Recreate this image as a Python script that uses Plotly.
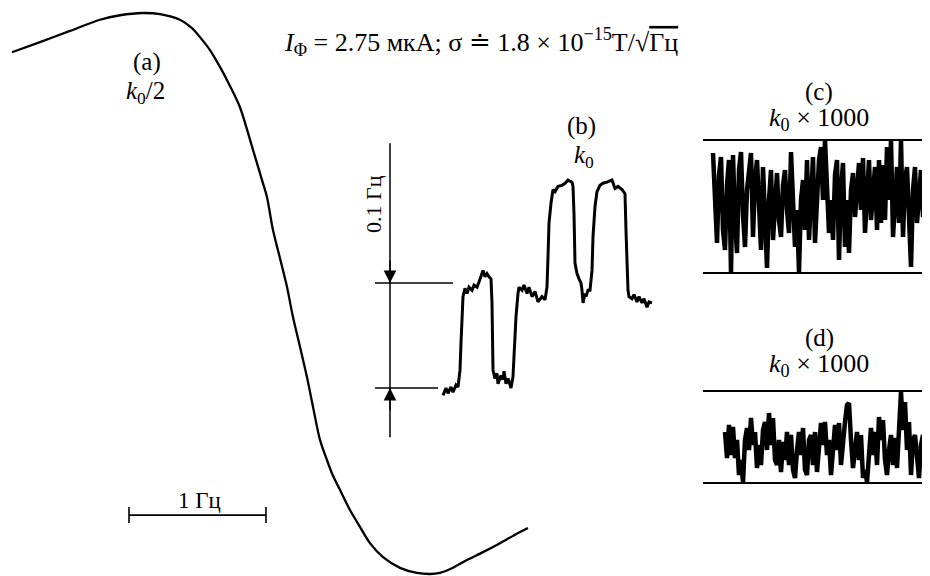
import plotly.graph_objects as go

# ---------------- data ----------------
# (a) k0/2 : response curve vs detuning (Hz), normalised amplitude
A_FREQ_HZ = [-0.854, -0.650, -0.431, -0.212, -0.066, 0.102, 0.226, 0.372, 0.460, 0.518,
             0.591, 0.664, 0.737, 0.810, 0.905, 0.971, 1.007, 1.051, 1.102, 1.153,
             1.197, 1.248, 1.299, 1.343, 1.394, 1.445, 1.489, 1.540, 1.613, 1.686,
             1.759, 1.854, 1.978, 2.102, 2.197, 2.270, 2.365, 2.467, 2.584, 2.708,
             2.818, 2.912]
A_RESPONSE = [0.930, 0.948, 0.968, 0.988, 0.996, 1.000, 0.998, 0.988, 0.973, 0.957,
              0.934, 0.904, 0.870, 0.832, 0.756, 0.702, 0.672, 0.613, 0.563, 0.512,
              0.458, 0.405, 0.351, 0.298, 0.239, 0.203, 0.175, 0.150, 0.114, 0.084,
              0.055, 0.030, 0.011, 0.002, 0.000, 0.002, 0.011, 0.025, 0.039, 0.055,
              0.070, 0.082]
A_SCALE_HZ = [0, 1]          # "1 Гц" scale bar
A_SCALE_LEVEL = 0.105

# (b) k0 : frequency steps (mHz) vs time (arb. units)
B_TIME = [0.0, 0.3, 0.5, 0.8, 1.0, 1.3, 1.5, 1.7, 1.8, 1.9, 2.0, 2.2, 2.4, 2.6, 2.9, 3.1, 3.4,
          3.6, 3.9, 4.0, 4.2, 4.4, 4.6, 4.8, 4.9, 4.93, 5.0, 5.2, 5.4, 5.5, 5.8, 6.0, 6.1,
          6.3, 6.5, 6.8, 7.0, 7.1, 7.3, 7.5, 7.6, 7.9, 8.1, 8.4, 8.6, 8.9, 9.2, 9.5, 9.9,
          10.2, 10.4, 10.5, 10.6, 10.8, 11.0, 11.2, 11.5, 11.9, 12.2, 12.5, 12.9, 13.0,
          13.1, 13.2, 13.3, 13.4, 13.6, 13.8, 13.9, 14.0, 14.2, 14.3, 14.5, 14.7, 14.9,
          15.0, 15.2, 15.4, 15.7, 16.0, 16.4, 16.9, 17.2, 17.5, 17.9, 18.2, 18.3, 18.4,
          18.5, 18.6, 18.9, 19.1, 19.4, 19.6, 19.9, 20.1, 20.4, 20.6, 20.9]
B_SHIFT_MHZ = [-7, 0, -5, 1, -4, 3, 1, 17, 43, 68, 87, 95, 90, 96, 93, 98, 96,
               101, 109, 112, 106, 109, 106, 104, 81, 43, 17, 9, 14, 4, 12, 8, 16,
               4, 9, 0, 11, 30, 68, 90, 96, 93, 98, 90, 96, 87, 92, 82, 87,
               84, 96, 125, 157, 176, 189, 187, 192, 193, 195, 198, 196, 192,
               166, 119, 114, 109, 104, 100, 93, 81, 90, 87, 93, 93, 112,
               144, 173, 187, 193, 195, 196, 198, 190, 192, 189, 185, 150, 106,
               93, 87, 85, 89, 82, 87, 81, 85, 77, 82, 81]
B_SCALE_MHZ = [0, 100]       # "0.1 Гц" scale

# (c) k0 x 1000 noise (arb. units, frame 0..133)
C_NOISE = [120, 73, 30, 98, 116, 43, 23, 88, 113, 1, 118, 53, 20, 103, 121, 58, 26, 83,
           103, 120, 36, 93, 113, 53, 23, 106, 43, 5, 73, 103, 33, 78, 100, 53, 36, 88,
           103, 63, 40, 121, 83, 26, 63, 1, 73, 93, 43, 113, 33, 78, 116, 30, 83, 113,
           126, 73, 133, 83, 40, 73, 33, 98, 113, 13, 83, 110, 26, 73, 20, 83, 100, 56,
           93, 110, 63, 115, 40, 83, 113, 53, 88, 106, 43, 113, 50, 108, 53, 126, 73,
           133, 36, 73, 106, 50, 133, 36, 93, 106, 43, 6, 83, 106, 50, 73, 103, 56, 78]
C_FRAME = [0, 133]

# (d) k0 x 1000 noise (arb. units, frame 0..92)
D_NOISE = [51, 25, 58, 28, 56, 25, 43, 8, 23, 1, 43, 55, 33, 65, 38, 51, 15, 38, 18, 53,
           61, 33, 70, 38, 65, 23, 18, 43, 11, 41, 23, 51, 18, 48, 13, 5, 33, 51, 28, 55,
           13, 8, 43, 48, 18, 51, 11, 33, 60, 38, 61, 28, 43, 8, 28, 58, 33, 60, 18, 43,
           61, 78, 80, 43, 15, 33, 51, 23, 48, 5, 13, 1, 33, 55, 28, 51, 18, 66, 43, 63,
           23, 8, 33, 48, 18, 45, 15, 63, 91, 53, 81, 33, 61, 8, 43, 48, 23, 5, 38, 48,
           13, 43, 23]
D_FRAME = [0, 92]

# ---------------- layout calibration ----------------
W, H = 930, 576
OFF = 8            # page body margin of the HTML output
FONT = "Liberation Serif"


def xr(p0, s):
    return [(OFF - p0) / s, (W + OFF - p0) / s]


def yr(q0, s):
    return [(q0 - H - OFF) / s, (q0 - OFF) / s]


BLACK = "black"
fig = go.Figure()

fig.add_trace(go.Scatter(x=A_FREQ_HZ, y=A_RESPONSE, mode="lines",
                         line=dict(color=BLACK, width=2.3, shape="spline", smoothing=0.8),
                         xaxis="x", yaxis="y", hoverinfo="skip"))
fig.add_trace(go.Scatter(x=B_TIME, y=B_SHIFT_MHZ, mode="lines",
                         line=dict(color=BLACK, width=3),
                         xaxis="x2", yaxis="y2", hoverinfo="skip"))
fig.add_trace(go.Scatter(x=list(range(len(C_NOISE))), y=C_NOISE, mode="lines",
                         line=dict(color=BLACK, width=4.5),
                         xaxis="x3", yaxis="y3", hoverinfo="skip"))
fig.add_trace(go.Scatter(x=list(range(len(D_NOISE))), y=D_NOISE, mode="lines",
                         line=dict(color=BLACK, width=4.5),
                         xaxis="x4", yaxis="y4", hoverinfo="skip"))

shapes = []
# (a) scale bar
tick = 8 / 561
shapes.append(dict(type="line", xref="x", yref="y", x0=A_SCALE_HZ[0], x1=A_SCALE_HZ[1],
                   y0=A_SCALE_LEVEL, y1=A_SCALE_LEVEL, line=dict(color=BLACK, width=1.6)))
for xv in A_SCALE_HZ:
    shapes.append(dict(type="line", xref="x", yref="y", x0=xv, x1=xv,
                       y0=A_SCALE_LEVEL - tick, y1=A_SCALE_LEVEL + tick,
                       line=dict(color=BLACK, width=1.6)))
# (b) scale: vertical line and horizontal level marks
bx = -5.3
shapes.append(dict(type="line", xref="x2", yref="y2", x0=bx, x1=bx, y0=-47, y1=233,
                   line=dict(color=BLACK, width=1.5)))
shapes.append(dict(type="line", xref="x2", yref="y2", x0=-6.8, x1=1.0,
                   y0=B_SCALE_MHZ[1], y1=B_SCALE_MHZ[1], line=dict(color=BLACK, width=1.5)))
shapes.append(dict(type="line", xref="x2", yref="y2", x0=-6.8, x1=-0.5,
                   y0=B_SCALE_MHZ[0], y1=B_SCALE_MHZ[0], line=dict(color=BLACK, width=1.5)))
# (c), (d) frames
for lv in C_FRAME:
    shapes.append(dict(type="line", xref="x3", yref="y3", x0=-5, x1=120, y0=lv, y1=lv,
                       line=dict(color=BLACK, width=2)))
for lv in D_FRAME:
    shapes.append(dict(type="line", xref="x4", yref="y4", x0=-11, x1=120, y0=lv, y1=lv,
                       line=dict(color=BLACK, width=2)))


def ann(text, px, py, size, angle=0):
    return dict(text=text, x=(px - OFF) / W, y=1 - (py - OFF) / H, xref="paper",
                yref="paper", showarrow=False, textangle=angle, xanchor="center",
                yanchor="middle", font=dict(family=FONT, size=size, color=BLACK))


annotations = [
    ann("<i>I</i><sub>Φ</sub> = 2.75 мкА; σ ≐ 1.8 × 10<sup>−15</sup>T/√"
        "<span style='text-decoration:overline'>Гц</span>", 481, 42, 26),
    ann("(a)", 147, 62, 25),
    ann("<i>k</i><sub>0</sub>/2", 145, 92, 25),
    ann("(b)", 581, 126, 25),
    ann("<i>k</i><sub>0</sub>", 584, 156, 25),
    ann("(c)", 819, 92, 25),
    ann("<i>k</i><sub>0</sub> × 1000", 819, 119, 26),
    ann("(d)", 819, 338, 25),
    ann("<i>k</i><sub>0</sub> × 1000", 819, 365, 26),
    ann("1 Гц", 199, 500, 23),
    ann("0.1 Гц", 373, 204, 22, angle=-90),
]
# (b) arrow heads on the 0.1 Hz scale
annotations.append(dict(x=bx, y=B_SCALE_MHZ[1], xref="x2", yref="y2", text="",
                        showarrow=True, ax=0, ay=-24, arrowhead=2, arrowsize=1.8,
                        arrowwidth=1.4, arrowcolor=BLACK))
annotations.append(dict(x=bx, y=B_SCALE_MHZ[0], xref="x2", yref="y2", text="",
                        showarrow=True, ax=0, ay=24, arrowhead=2, arrowsize=1.8,
                        arrowwidth=1.4, arrowcolor=BLACK))

hidden = dict(visible=False, showgrid=False, zeroline=False, fixedrange=True,
              domain=[0, 1])
fig.update_layout(
    width=W, height=H, margin=dict(l=0, r=0, t=0, b=0),
    paper_bgcolor="white", plot_bgcolor="rgba(0,0,0,0)", showlegend=False,
    xaxis=dict(hidden, range=xr(129, 137), anchor="y"),
    yaxis=dict(hidden, range=yr(574, 561), anchor="x"),
    xaxis2=dict(hidden, range=xr(443, 10), anchor="y2"),
    yaxis2=dict(hidden, range=yr(388, 1.05), anchor="x2"),
    xaxis3=dict(hidden, range=xr(713, 2), anchor="y3"),
    yaxis3=dict(hidden, range=yr(273, 1), anchor="x3"),
    xaxis4=dict(hidden, range=xr(725, 2), anchor="y4"),
    yaxis4=dict(hidden, range=yr(483, 1), anchor="x4"),
    shapes=shapes, annotations=annotations,
)

fig.write_html("out.html")
